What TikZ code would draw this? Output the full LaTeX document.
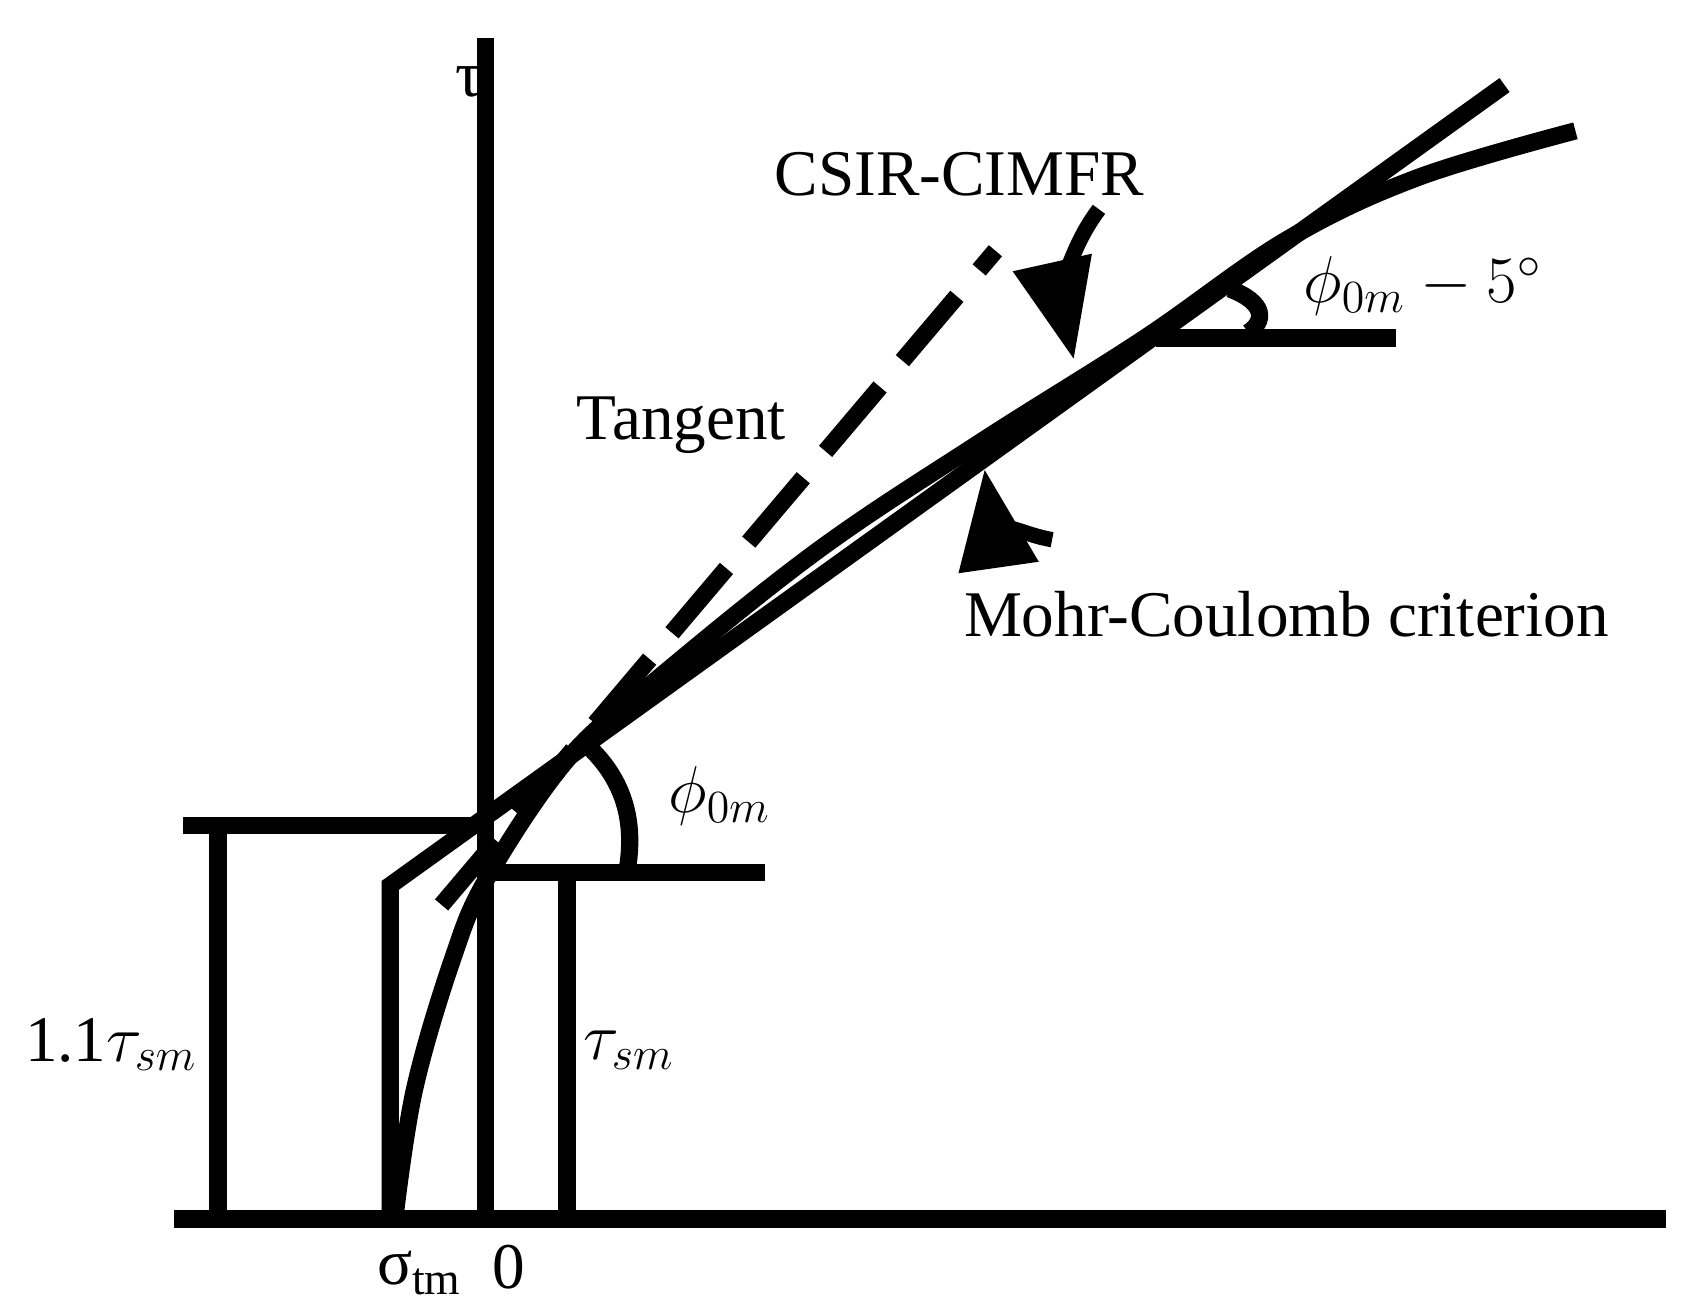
\documentclass[tikz,border=0pt]{standalone}
\usepackage{fontspec}
\setmainfont{Liberation Serif}
\usetikzlibrary{arrows.meta}
\begin{document}
\begin{tikzpicture}[x=0.01cm,y=-0.01cm,line width=4.5pt,
  lbl/.style={font=\fontsize{17}{20}\selectfont,inner sep=0pt},
  pt/.style={-{Triangle[length=26pt,width=20pt]},line width=4pt}]
\useasboundingbox (0,0) rectangle (1562,1205);
\coordinate (o) at (445,1118);
\coordinate (ttop) at (445,35);
\coordinate (xl) at (160,1118);
\coordinate (xr) at (1528,1118);
\draw (ttop) -- (o);
\draw (xl) -- (xr);
\node[lbl] (tau) at (430,75) {τ};
% 1.1 tau_sm
\coordinate (a1) at (168,757); \coordinate (a2) at (445,757);
\draw (a1) -- (a2); \draw (200,757) -- (200,1118);
\node[lbl] (l11) at (102,958) {1.1$\tau_{sm}$};
% tau_sm
\coordinate (b1) at (445,800); \coordinate (b2) at (702,800);
\draw (b1) -- (b2); \draw (520,800) -- (520,1118);
\node[lbl] (lsm) at (577,963) {$\tau_{sm}$};
% Mohr-Coulomb polyline
\coordinate (m0) at (358,1118); \coordinate (m1) at (358,812); \coordinate (m2) at (1380,78);
\draw[line join=miter] (m0) -- (m1) -- (m2);
\draw (1060,310) -- (1280,310);
% CSIR curve
\draw plot[smooth,tension=0.6] coordinates {(362,1118) (380,1000) (415,880) (447,805) (520,697) (600,625) (750,505) (900,405) (1050,310) (1180,220) (1300,163) (1445,120)};
% tangent
\draw[dashed,dash pattern=on 22pt off 9pt] (405,830) -- (913,230);
% angle arcs
\draw (540,685) .. controls (582,725) and (580,770) .. (575,800);
\draw (1128,265) .. controls (1162,278) and (1160,295) .. (1145,305);
\node[lbl] (phi) at (660,730) {$\phi_{0m}$};
\node[lbl] (phi5) at (1305,262) {$\phi_{0m}-5^\circ$};
\node[lbl] (csir) at (880,160) {CSIR-CIMFR};
\draw[pt] (1008,192) .. controls (975,235) and (975,285) .. (985,330);
\node[lbl] (tan) at (625,390) {Tangent};
\node[lbl] (mc) at (1180,563) {Mohr-Coulomb criterion};
\draw[pt] (965,495) .. controls (925,488) and (908,465) .. (903,430);
\node[lbl] (stm) at (385,1168) {σ\textsubscript{tm}};
\node[lbl] (zero) at (467,1162) {0};
\end{tikzpicture}
\end{document}
